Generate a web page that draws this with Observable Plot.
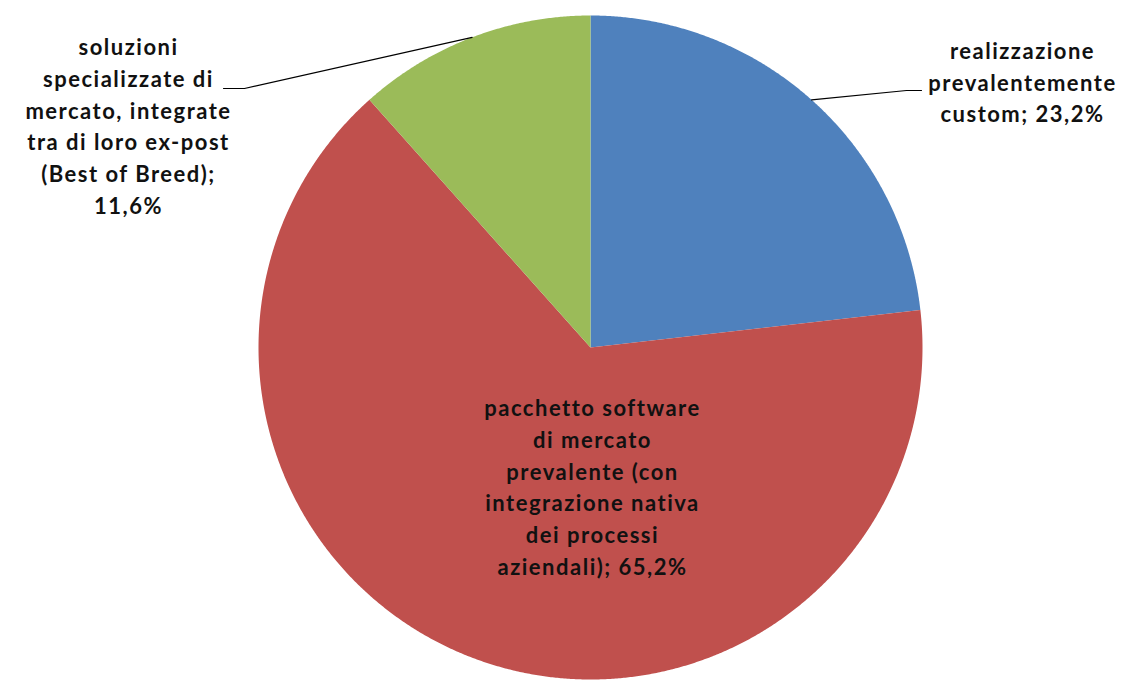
<!DOCTYPE html>
<html>
<head>
<meta charset="utf-8">
<script src="https://cdn.jsdelivr.net/npm/d3@7"></script>
<script src="https://cdn.jsdelivr.net/npm/@observablehq/plot@0.6"></script>
<style>
  html, body { margin: 0; padding: 0; background: #fff; }
  #chart svg { display: block; }
</style>
</head>
<body>
<div id="chart"></div>
<script>
// ---- data ----
const categories = [
  "realizzazione prevalentemente custom",
  "pacchetto software di mercato prevalente (con integrazione nativa dei processi aziendali)",
  "soluzioni specializzate di mercato, integrate tra di loro ex-post (Best of Breed)"
];
const values = [23.2, 65.2, 11.6];
const labelLines = [
  ["realizzazione", "prevalentemente", "custom; 23,2%"],
  ["pacchetto software", "di mercato", "prevalente (con", "integrazione nativa", "dei processi", "aziendali); 65,2%"],
  ["soluzioni", "specializzate di", "mercato, integrate", "tra di loro ex-post", "(Best of Breed);", "11,6%"]
];
const colors = ["#4F81BD", "#C0504D", "#9BBB59"];

// ---- layout ----
const W = 1132, H = 680;
const cx = 590, cy = 347, R = 332;
const labelPos = [ {x: 1022, y: 80}, {x: 592, y: 485}, {x: 128, y: 124} ]; // label block centers
const leaderEnds = [ [[906, 90], [921, 90]], null, [[244, 88], [223, 88]] ];

const pt = (a, r) => ({x: cx + r * Math.sin(a), y: cy - r * Math.cos(a)});

const arcs = d3.pie().sort(null).value(d => d.value)(
  categories.map((c, i) => ({category: c, value: values[i], i}))
);

// polygon points for each slice
const poly = [];
arcs.forEach(a => {
  const cat = a.data.category;
  poly.push({cat, ...pt(0, 0)});
  const n = Math.max(2, Math.ceil((a.endAngle - a.startAngle) / 0.005));
  for (let k = 0; k <= n; k++) {
    const ang = a.startAngle + (a.endAngle - a.startAngle) * k / n;
    poly.push({cat, ...pt(ang, R)});
  }
  poly.push({cat, ...pt(0, 0)});
});

// leader lines
const leaders = [];
arcs.forEach((a, i) => {
  if (!leaderEnds[i]) return;
  const mid = (a.startAngle + a.endAngle) / 2;
  const p0 = pt(mid, R);
  leaders.push({id: i, x: p0.x, y: p0.y});
  leaderEnds[i].forEach(([x, y]) => leaders.push({id: i, x, y}));
});

const labels = arcs.map((a, i) => ({
  text: labelLines[i].join("\n"),
  x: labelPos[i].x, y: labelPos[i].y
}));

const chart = Plot.plot({
  width: W, height: H, margin: 0,
  style: {fontFamily: "Lato, 'Open Sans', sans-serif", background: "#fff", letterSpacing: "1.5px"},
  x: {domain: [0, W], range: [0, W], axis: null},
  y: {domain: [0, H], range: [0, H], axis: null},
  color: {domain: categories, range: colors},
  marks: [
    Plot.line(poly, {x: "x", y: "y", z: "cat", fill: "cat", stroke: null, curve: "linear-closed"}),
    Plot.line(leaders, {x: "x", y: "y", z: "id", stroke: "#000", strokeWidth: 1.2}),
    Plot.text(labels, {x: "x", y: "y", text: "text", fontSize: 22, fontWeight: "bold",
      lineHeight: 1.44, textAnchor: "middle", lineAnchor: "middle", fill: "#111"})
  ]
});
document.getElementById("chart").appendChild(chart);
</script>
</body>
</html>
